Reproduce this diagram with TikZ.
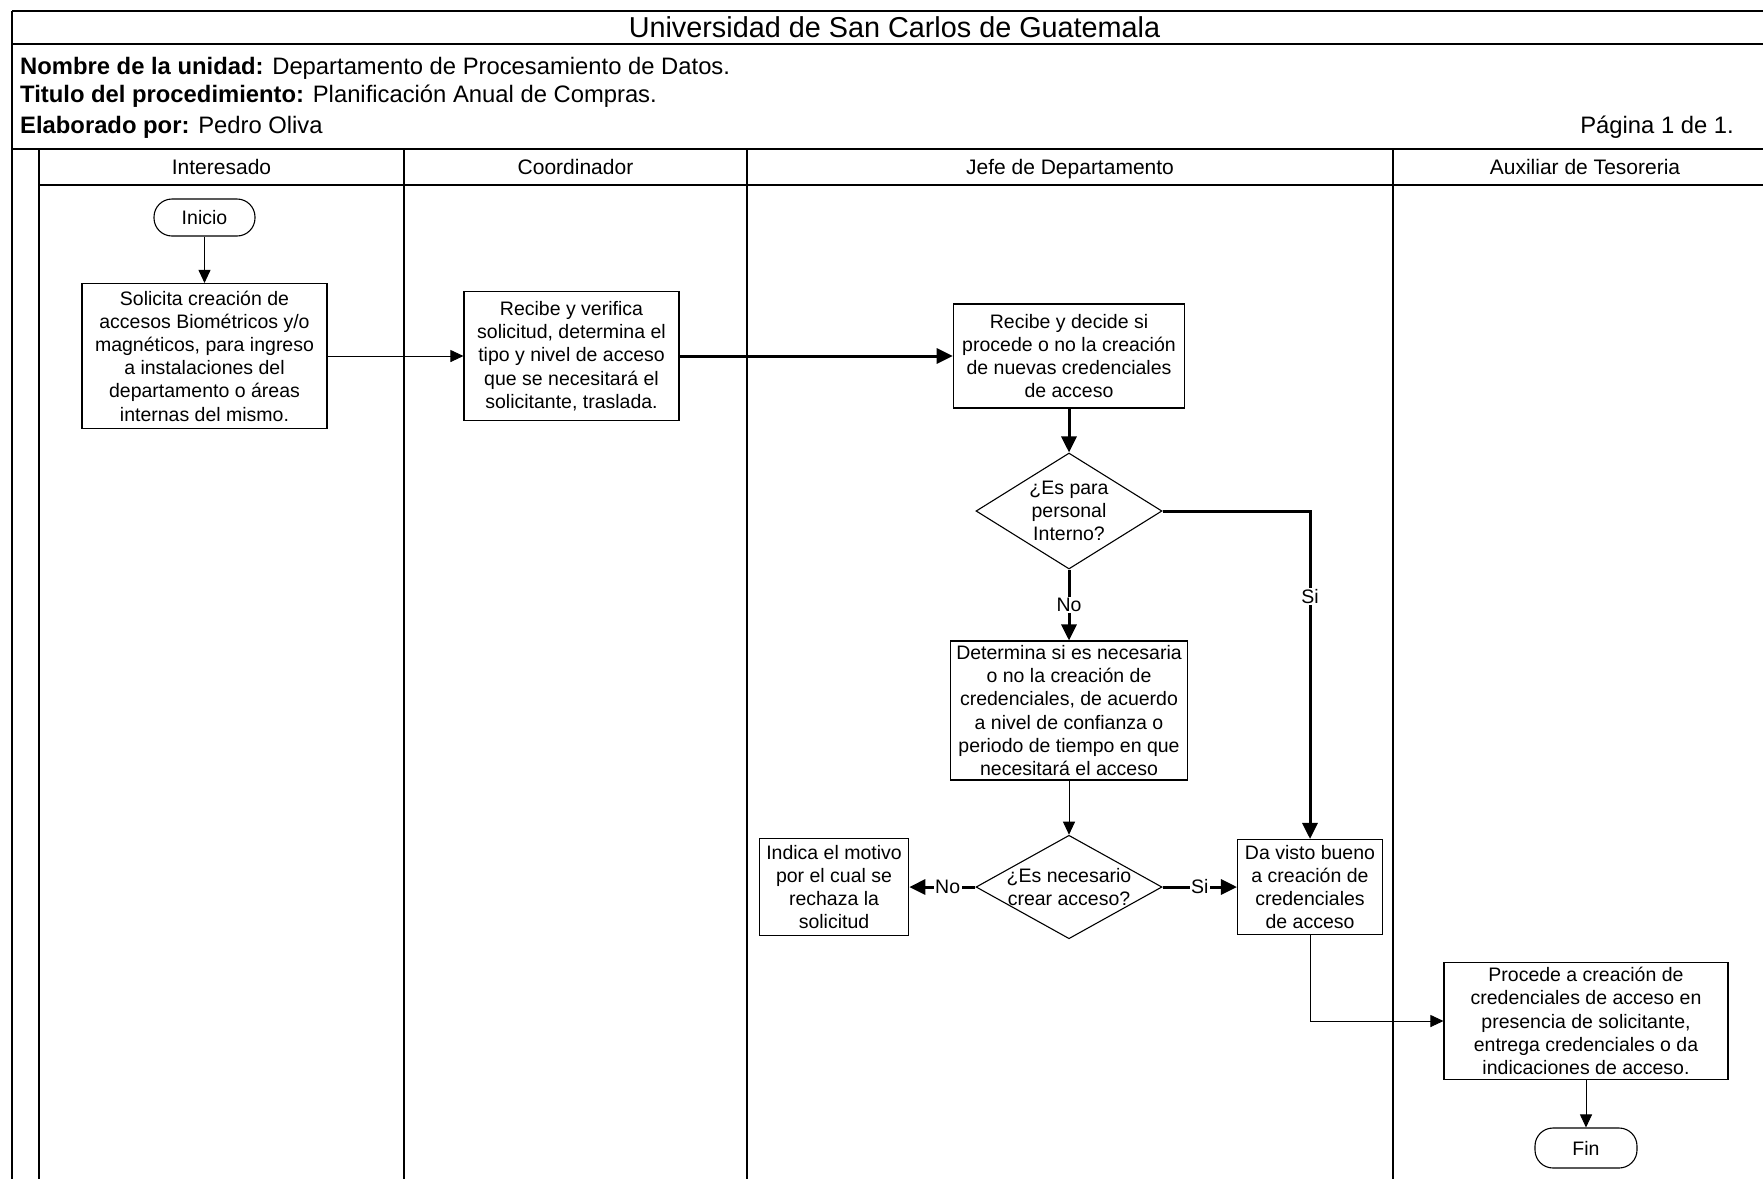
\documentclass[tikz,border=0pt]{standalone}
\usepackage{fontspec}
\setmainfont{Liberation Sans}
\usetikzlibrary{shapes.geometric,arrows.meta}
\newcommand\txtbody{\fontsize{19.5}{23.2}\selectfont}
\newcommand\txthead{\fontsize{23.8}{28}\selectfont}
\newcommand\txtlane{\fontsize{21}{25}\selectfont}
\newcommand\txttitle{\fontsize{28.8}{34}\selectfont}

\begin{document}
\begin{tikzpicture}[x=1pt,y=-1pt,
  frameline/.style={line width=1.4pt},
  barline/.style={line width=2.4pt},
  laneline/.style={line width=2.2pt},
  stepbox/.style={draw, line width=1.1pt, fill=white, align=center, inner sep=0pt, font=\txtbody},
  term/.style={draw, line width=1.1pt, fill=white, rounded corners=18pt, inner sep=0pt, font=\txtbody},
  decision/.style={draw, diamond, line width=1.1pt, fill=white, inner sep=0pt},
  dtext/.style={align=center, inner sep=0pt, font=\txtbody},
  headtext/.style={inner sep=0pt, font=\txthead},
  lanetext/.style={inner sep=0pt, font=\txtlane, anchor=base},
  thinflow/.style={line width=0.9pt, -{Triangle[length=13pt,width=12pt]}},
  thickflow/.style={line width=3pt, -{Triangle[length=16pt,width=15pt]}},
  flowlabel/.style={fill=white, inner sep=1.5pt, font=\txtbody},
]
\useasboundingbox (0,0) rectangle (1763,1179);

% ---- page frame and header block ----
\draw[frameline] (12,11) -- (1763,11);
\draw[frameline] (12,11) -- (12,1179);
\draw[barline] (12,44) -- (1763,44);
\draw[frameline] (12,149) -- (1763,149);
\draw[frameline] (39,185) -- (1763,185);

\node[inner sep=0pt, font=\txttitle, anchor=base] (title) at (894.5,37.5)
  {Universidad de San Carlos de Guatemala};
\node[headtext, anchor=base west] (unidad) at (20,74.8)
  {\textbf{Nombre de la unidad:} Departamento de Procesamiento de Datos.};
\node[headtext, anchor=base west] (proc) at (20,102.5)
  {\textbf{Titulo del procedimiento:} Planificación Anual de Compras.};
\node[headtext, anchor=base west] (autor) at (20,133.5)
  {\textbf{Elaborado por:} Pedro Oliva};
\node[headtext, anchor=base east] (pagina) at (1734,133.5) {Página 1 de 1.};

% ---- swim lanes ----
\foreach \lx in {39,404,747,1393}
  \draw[laneline] (\lx,149) -- (\lx,1179);

\node[lanetext] (l1) at (221.5,174) {Interesado};
\node[lanetext] (l2) at (575.5,174) {Coordinador};
\node[lanetext] (l3) at (1070,174) {Jefe de Departamento};
\node[lanetext] (l4) at (1585,174) {Auxiliar de Tesoreria};

% ---- flow nodes ----
\node[term, minimum width=101pt, minimum height=37pt] (inicio) at (204.5,217.5) {Inicio};

\node[stepbox, minimum width=245pt, minimum height=145pt] (solicita) at (204.5,356)
  {Solicita creación de\\accesos Biométricos y/o\\magnéticos, para ingreso\\a instalaciones del\\departamento o áreas\\internas del mismo.};

\node[stepbox, minimum width=215pt, minimum height=129pt] (verifica) at (571.5,356)
  {Recibe y verifica\\solicitud, determina el\\tipo y nivel de acceso\\que se necesitará el\\solicitante, traslada.};

\node[stepbox, minimum width=231.5pt, minimum height=104pt] (decide) at (1069,356)
  {Recibe y decide si\\procede o no la creación\\de nuevas credenciales\\de acceso};

\node[decision, minimum width=186pt, minimum height=116pt] (interno) at (1069,511) {};
\node[dtext] (internot) at (interno.center) {¿Es para\\personal\\Interno?};

\node[stepbox, minimum width=237.5pt, minimum height=139pt] (determina) at (1069,710.5)
  {Determina si es necesaria\\o no la creación de\\credenciales, de acuerdo\\a nivel de confianza o\\periodo de tiempo en que\\necesitará el acceso};

\node[decision, minimum width=186pt, minimum height=103.5pt] (necesario) at (1069,887) {};
\node[dtext] (necesariot) at (necesario.center) {¿Es necesario\\crear acceso?};

\node[stepbox, minimum width=149.5pt, minimum height=96.5pt] (motivo) at (834,887)
  {Indica el motivo\\por el cual se\\rechaza la\\solicitud};

\node[stepbox, minimum width=145pt, minimum height=95pt] (visto) at (1310,887)
  {Da visto bueno\\a creación de\\credenciales\\de acceso};

\node[stepbox, minimum width=284pt, minimum height=117pt] (procede) at (1586,1021)
  {Procede a creación de\\credenciales de acceso en\\presencia de solicitante,\\entrega credenciales o da\\indicaciones de acceso.};

\node[term, minimum width=102pt, minimum height=40pt] (fin) at (1586,1148) {Fin};

% ---- connectors ----
\draw[thinflow] (inicio) -- (solicita);
\draw[thinflow] (solicita) -- (verifica);
\draw[thickflow] (verifica) -- (decide);
\draw[thickflow] (decide) -- (interno);
\draw[thickflow] (interno) -- node[flowlabel] (lno1) {No} (determina);
\draw[thickflow] (interno.east) -| node[flowlabel, pos=0.63] (lsi1) {Si} (visto.north);
\draw[thinflow] (determina) -- (necesario);
\draw[thickflow] (necesario.west) -- node[flowlabel, pos=0.42] (lno2) {No} (motivo.east);
\draw[thickflow] (necesario.east) -- node[flowlabel] (lsi2) {Si} (visto.west);
\draw[thinflow] (visto.south) |- (procede.west);
\draw[thinflow] (procede) -- (fin);
\end{tikzpicture}
\end{document}
